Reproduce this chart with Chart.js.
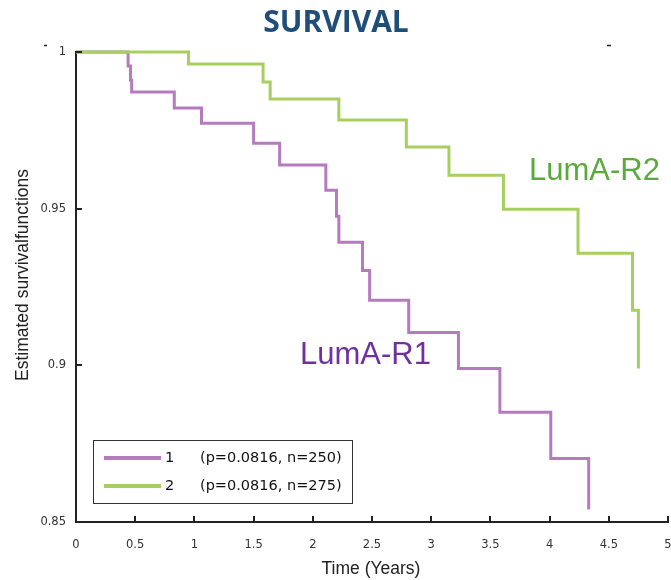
<!DOCTYPE html>
<html>
<head>
<meta charset="utf-8">
<script src="https://cdn.jsdelivr.net/npm/chart.js@4/dist/chart.umd.min.js"></script>
<style>
  html, body { margin: 0; padding: 0; background: #fff; }
  #wrap { width: 671px; height: 580px; position: relative; }
</style>
</head>
<body>
<div id="wrap"><canvas id="survivalChart" width="671" height="580"></canvas></div>
<script>
// Kaplan-Meier step points: time (years) and survival after the event
const timesR1 = [0, 0.44, 0.46, 0.47, 0.83, 1.06, 1.50, 1.72, 2.11, 2.20, 2.22, 2.42, 2.48, 2.81, 3.23, 3.58, 4.01, 4.33];
const survR1  = [1, 0.9955, 0.991, 0.9872, 0.9821, 0.9773, 0.9709, 0.9639, 0.9559, 0.9476, 0.9393, 0.9303, 0.9208, 0.9105, 0.899, 0.885, 0.8703, 0.854];

const timesR2 = [0, 0.95, 1.58, 1.64, 2.22, 2.79, 3.15, 3.61, 4.24, 4.70, 4.75];
const survR2  = [1, 0.9962, 0.9904, 0.985, 0.9783, 0.9697, 0.9607, 0.9498, 0.9358, 0.9176, 0.899];

const legendLabels = ['1', '2'];
const legendStats  = ['(p=0.0816, n=250)', '(p=0.0816, n=275)'];
const curveNames   = ['LumA-R1', 'LumA-R2'];

const xTicks = [0, 0.5, 1, 1.5, 2, 2.5, 3, 3.5, 4, 4.5, 5];
const yTicks = [0.85, 0.9, 0.95, 1];

const purple = 'rgb(181,123,190)';
const green  = 'rgb(167,207,96)';

function toPoints(xs, ys) {
    return xs.map((x, i) => ({ x: x, y: ys[i] }));
}

// фиксированные размеры осей, без лишних отступов под подписи
function fixBox(w, h) {
    return s => {
        if (w) s.width = w;
        if (h) s.height = h;
        s.paddingLeft = 0;
        s.paddingRight = 0;
        s.paddingTop = 0;
        s.paddingBottom = 0;
    };
}

// Титул, подписи осей, подписи кривых и легенда
const decorPlugin = {
    id: 'decor',
    afterDraw(chart) {
        const ctx = chart.ctx;
        const xs = chart.scales.x;
        const ys = chart.scales.y;
        const area = chart.chartArea;
        ctx.save();

        // внутренние засечки на осях
        ctx.strokeStyle = '#222';
        ctx.lineWidth = 2;
        xTicks.forEach(v => {
            const px = Math.round(xs.getPixelForValue(v));
            ctx.beginPath();
            ctx.moveTo(px, area.bottom);
            ctx.lineTo(px, area.bottom - 6);
            ctx.stroke();
        });
        yTicks.forEach(v => {
            const py = Math.round(ys.getPixelForValue(v));
            ctx.beginPath();
            ctx.moveTo(area.left, py);
            ctx.lineTo(area.left + 6, py);
            ctx.stroke();
        });

        // короткие штрихи над рамкой
        ctx.lineWidth = 1.5;
        ctx.beginPath();
        ctx.moveTo(44, 45.5); ctx.lineTo(47, 45.5);
        ctx.moveTo(607, 45.5); ctx.lineTo(611, 45.5);
        ctx.stroke();

        // заголовок
        ctx.fillStyle = '#1f4e79';
        ctx.font = 'bold 30px "Liberation Sans Narrow", "Open Sans", sans-serif';
        ctx.textAlign = 'center';
        ctx.textBaseline = 'middle';
        ctx.fillText('SURVIVAL', 336, 23);

        // подписи осей
        ctx.fillStyle = '#222';
        ctx.font = '17.5px "Liberation Sans", Arial, sans-serif';
        ctx.fillText('Time (Years)', 371, 569);
        ctx.save();
        ctx.translate(23, 275);
        ctx.rotate(-Math.PI / 2);
        ctx.fillText('Estimated survivalfunctions', 0, 0);
        ctx.restore();

        // названия кривых
        ctx.font = '31px "Liberation Sans", Arial, sans-serif';
        ctx.textAlign = 'left';
        ctx.fillStyle = '#5aaa3c';
        ctx.fillText(curveNames[1], 529, 171);
        ctx.fillStyle = '#7030a0';
        ctx.fillText(curveNames[0], 300, 355);

        // легенда
        const lx = 93, ly = 440, lw = 259, lh = 63;
        ctx.fillStyle = '#fff';
        ctx.fillRect(lx, ly, lw, lh);
        ctx.strokeStyle = '#333';
        ctx.lineWidth = 1;
        ctx.strokeRect(lx + 0.5, ly + 0.5, lw, lh);
        const colors = [purple, green];
        ctx.font = '14.5px "DejaVu Sans", sans-serif';
        for (let i = 0; i < 2; i++) {
            const rowY = ly + 18 + i * 28;
            ctx.strokeStyle = colors[i];
            ctx.lineWidth = 4;
            ctx.beginPath();
            ctx.moveTo(104, rowY);
            ctx.lineTo(161, rowY);
            ctx.stroke();
            ctx.fillStyle = '#111';
            ctx.fillText(legendLabels[i], 165, rowY);
            ctx.fillText(legendStats[i], 200, rowY);
        }
        ctx.restore();
    }
};

const chartConfig = {
    type: 'line',
    data: {
        datasets: [
            {
                label: 'LumA-R1',
                data: toPoints(timesR1, survR1),
                borderColor: purple,
                borderWidth: 3,
                stepped: 'before',
                pointRadius: 0,
                fill: false,
                clip: false,
                order: 1
            },
            {
                label: 'LumA-R2',
                data: toPoints(timesR2, survR2),
                borderColor: green,
                borderWidth: 3,
                stepped: 'before',
                pointRadius: 0,
                fill: false,
                clip: false,
                order: 0
            }
        ]
    },
    options: {
        responsive: false,
        animation: false,
        layout: { padding: { top: 52, right: 3, left: 0, bottom: 0 } },
        plugins: {
            legend: { display: false },
            tooltip: { enabled: false }
        },
        scales: {
            x: {
                type: 'linear',
                min: 0,
                max: 5,
                afterBuildTicks: s => { s.ticks = xTicks.map(v => ({ value: v })); },
                afterFit: fixBox(0, 58),
                grid: { display: true, drawOnChartArea: false, drawTicks: false },
                border: { display: true, color: '#222', width: 2 },
                ticks: {
                    padding: 16,
                    maxRotation: 0,
                    color: '#333',
                    font: { family: '"DejaVu Sans", sans-serif', size: 11.5 },
                    callback: v => String(v)
                }
            },
            y: {
                type: 'linear',
                min: 0.85,
                max: 1,
                afterBuildTicks: s => { s.ticks = yTicks.map(v => ({ value: v })); },
                afterFit: fixBox(76, 0),
                grid: { display: true, drawOnChartArea: false, drawTicks: false },
                border: { display: true, color: '#222', width: 2 },
                ticks: {
                    padding: 10,
                    color: '#333',
                    font: { family: '"DejaVu Sans", sans-serif', size: 11.5 },
                    callback: v => String(Math.round(v * 100) / 100)
                }
            }
        }
    },
    plugins: [decorPlugin]
};

new Chart(document.getElementById('survivalChart'), chartConfig);
</script>
</body>
</html>
